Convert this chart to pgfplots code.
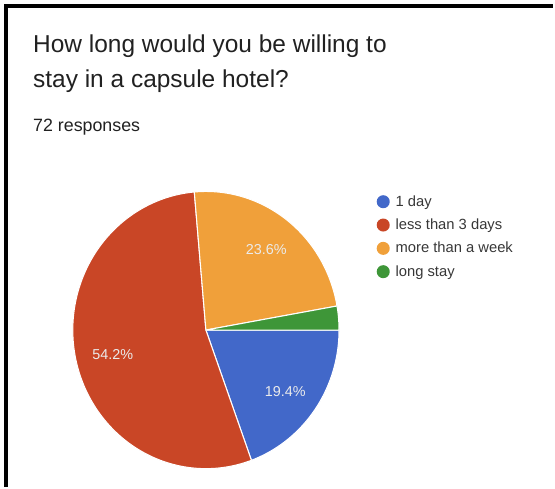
\documentclass[border=0pt]{standalone}
\usepackage{pgfplots}
\usepackage{pgfplotstable}
\pgfplotsset{compat=1.18}
\usepackage{fontspec}
\setmainfont{Liberation Sans}

\definecolor{cBlue}{RGB}{66,104,201}
\definecolor{cRed}{RGB}{201,70,38}
\definecolor{cOrange}{RGB}{240,160,58}
\definecolor{cGreen}{RGB}{62,150,56}
\definecolor{cText}{RGB}{33,33,33}

% responses per answer
\pgfplotstableread{
answer count
1 14
2 39
3 17
4 2
}\answers

\pgfplotstablegetelem{0}{count}\of\answers \let\nA\pgfplotsretval
\pgfplotstablegetelem{1}{count}\of\answers \let\nB\pgfplotsretval
\pgfplotstablegetelem{2}{count}\of\answers \let\nC\pgfplotsretval
\pgfplotstablegetelem{3}{count}\of\answers \let\nD\pgfplotsretval
\pgfmathsetmacro\total{\nA+\nB+\nC+\nD}
% slice boundaries, clockwise from 3 o'clock
\pgfmathsetmacro\aA{-360*\nA/\total}
\pgfmathsetmacro\aB{\aA-360*\nB/\total}
\pgfmathsetmacro\aC{\aB-360*\nC/\total}
\pgfmathsetmacro\aD{\aC-360*\nD/\total}

\def\cx{206.5}
\def\cy{157}
\def\rx{133.5}
\def\ry{139}

\begin{document}
\begin{tikzpicture}
\begin{axis}[
    width=416.25pt, height=366pt, scale only axis,
    xmin=0, xmax=555, ymin=0, ymax=488,
    hide axis, clip=false,
    legend cell align=left,
    legend style={at={(axis cs:377,295)}, anchor=north west, draw=none, fill=none,
        font=\fontsize{11.1pt}{13pt}\selectfont\color{cText!90},
        row sep=4pt, inner sep=0pt},
    legend image code/.code={\fill[#1, draw=none] (0pt,0pt) circle (4.9pt); \path (-4.9pt,0pt) (6.9pt,0pt);},
]
\path (axis cs:0,0) rectangle (axis cs:555,488);

\addplot[fill=cBlue, draw=white, line width=0.8pt, domain=\aA:0, samples=80]
    ({\cx+\rx*cos(x)}, {\cy+\ry*sin(x)}) -- (axis cs:\cx,\cy) -- cycle;
\addlegendentry{1 day}
\addplot[fill=cRed, draw=white, line width=0.8pt, domain=\aB:\aA, samples=160]
    ({\cx+\rx*cos(x)}, {\cy+\ry*sin(x)}) -- (axis cs:\cx,\cy) -- cycle;
\addlegendentry{less than 3 days}
\addplot[fill=cOrange, draw=white, line width=0.8pt, domain=\aC:\aB, samples=80]
    ({\cx+\rx*cos(x)}, {\cy+\ry*sin(x)}) -- (axis cs:\cx,\cy) -- cycle;
\addlegendentry{more than a week}
\addplot[fill=cGreen, draw=white, line width=0.8pt, domain=\aD:\aC, samples=20]
    ({\cx+\rx*cos(x)}, {\cy+\ry*sin(x)}) -- (axis cs:\cx,\cy) -- cycle;
\addlegendentry{long stay}

% percentage labels
\begin{scope}[every node/.style={text=white!92!black, font=\fontsize{10.8pt}{12pt}\selectfont}]
\node at (axis cs:267,238) {23.6\%};
\node at (axis cs:113,132) {54.2\%};
\node at (axis cs:286,95) {19.4\%};
\end{scope}

% titles
\begin{scope}[every node/.style={anchor=base west, inner sep=0pt, text=cText}]
\node[font=\fontsize{18.4pt}{22pt}\selectfont] at (axis cs:33,435) {How long would you be willing to};
\node[font=\fontsize{18.4pt}{22pt}\selectfont] at (axis cs:33,400) {stay in a capsule hotel?};
\node[font=\fontsize{13.4pt}{16pt}\selectfont] at (axis cs:33,356) {72 responses};
\end{scope}

% frame
\draw[line width=2.4pt, black] (axis cs:6,0) -- (axis cs:6,482) -- (axis cs:555,482);
\end{axis}
\end{tikzpicture}
\end{document}
